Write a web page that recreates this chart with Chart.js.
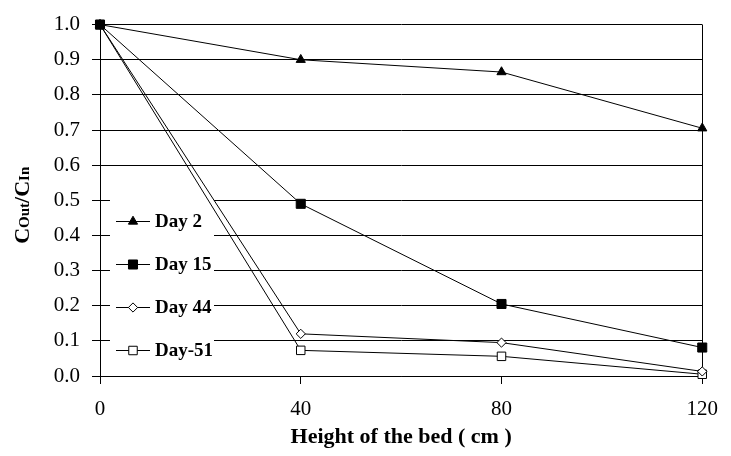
<!DOCTYPE html>
<html><head><meta charset="utf-8">
<script src="https://cdn.jsdelivr.net/npm/chart.js@4.4.0/dist/chart.umd.min.js"></script>
<style>html,body{margin:0;padding:0;background:#fff}#wrap{width:731px;height:456px}</style>
</head><body><div id="wrap"><canvas id="c" width="731" height="456"></canvas></div>
<script>
const heights = [0, 40, 80, 120];
const seriesNames = ['Day 2', 'Day 15', 'Day 44', 'Day-51'];
const day2 = [1.0, 0.90, 0.865, 0.705];
const day15 = [1.0, 0.49, 0.205, 0.081];
const day44 = [1.0, 0.12, 0.095, 0.013];
const day51 = [1.0, 0.073, 0.056, 0.005];
const xTitle = 'Height of the bed ( cm )';
const yTitleParts = [['C', false], ['Out', true], ['/', false], ['C', false], ['In', true]];

const FONT = 'Liberation Serif, Times New Roman, serif';
const markerStyles = [
  {pointStyle: 'triangle', radius: 5.3, bg: '#000'},
  {pointStyle: 'rect', radius: 6.4, bg: '#000'},
  {pointStyle: 'rectRot', radius: 4.6, bg: '#fff'},
  {pointStyle: 'rect', radius: 6.0, bg: '#fff'}
];
const allSeries = [day2, day15, day44, day51];

const datasets = allSeries.map((vals, i) => ({
  label: seriesNames[i],
  data: heights.map((h, j) => ({x: h, y: vals[j]})),
  borderColor: '#000',
  borderWidth: 1,
  backgroundColor: markerStyles[i].bg,
  pointStyle: markerStyles[i].pointStyle,
  pointRadius: markerStyles[i].radius,
  pointHoverRadius: markerStyles[i].radius,
  pointBackgroundColor: markerStyles[i].bg,
  pointBorderColor: '#000',
  pointBorderWidth: 1,
  tension: 0,
  fill: false,
  clip: false
}));

function drawMarker(ctx, style, x, y) {
  if (Chart.helpers && Chart.helpers.drawPoint) {
    ctx.save();
    ctx.fillStyle = style.bg; ctx.strokeStyle = '#000'; ctx.lineWidth = 1;
    Chart.helpers.drawPoint(ctx, {pointStyle: style.pointStyle, radius: style.radius, rotation: 0, borderWidth: 1}, x, y);
    ctx.restore();
  }
}

const insideLegend = {
  id: 'insideLegend',
  beforeDatasetsDraw(chart) {
    const {ctx, chartArea} = chart;
    const left = chartArea.left + 10;
    const top = chartArea.top + 174;
    ctx.save();
    ctx.fillStyle = '#fff';
    ctx.fillRect(left, top, 104, 170);
    const rowGap = 43;
    const firstRow = top + 22.5;
    ctx.font = 'bold 19px ' + FONT;
    ctx.textBaseline = 'middle';
    ctx.textAlign = 'left';
    seriesNames.forEach((name, i) => {
      const y = firstRow + i * rowGap;
      ctx.strokeStyle = '#000'; ctx.lineWidth = 1;
      ctx.beginPath(); ctx.moveTo(left + 6, Math.round(y) + 0.5); ctx.lineTo(left + 40, Math.round(y) + 0.5); ctx.stroke();
      drawMarker(ctx, markerStyles[i], left + 23, Math.round(y) + 0.5);
      ctx.fillStyle = '#000';
      ctx.fillText(name, left + 45, y + 1);
    });
    ctx.restore();
  },
  afterDraw(chart) {
    const {ctx, chartArea} = chart;
    ctx.save();
    const big = 'bold 22px ' + FONT, small = 'bold 15px ' + FONT;
    let total = 0;
    yTitleParts.forEach(([t, sub]) => { ctx.font = sub ? small : big; total += ctx.measureText(t).width; });
    ctx.translate(21, (chartArea.top + chartArea.bottom) / 2 + 5);
    ctx.rotate(-Math.PI / 2);
    ctx.fillStyle = '#000';
    ctx.textBaseline = 'alphabetic';
    ctx.textAlign = 'left';
    let x = -total / 2;
    yTitleParts.forEach(([t, sub]) => {
      ctx.font = sub ? small : big;
      ctx.fillText(t, x, 7.5);
      x += ctx.measureText(t).width;
    });
    ctx.restore();
  }
};

new Chart(document.getElementById('c'), {
  type: 'line',
  data: {datasets},
  plugins: [insideLegend],
  options: {
    responsive: false,
    animation: false,
    devicePixelRatio: 1,
    layout: {padding: {top: 21, right: 17, left: 0, bottom: 5}},
    plugins: {legend: {display: false}, tooltip: {enabled: false}},
    scales: {
      x: {
        type: 'linear', min: 0, max: 120,
        ticks: {stepSize: 40, color: '#000', font: {family: FONT, size: 21}, padding: 13, maxRotation: 0},
        grid: {
          color: (c) => (c.tick && c.tick.value === 120 ? '#000' : 'rgba(0,0,0,0)'),
          tickColor: '#000', tickLength: 8, lineWidth: 1
        },
        border: {color: '#000', width: 1},
        title: {display: true, text: xTitle, color: '#000', font: {family: FONT, size: 22, weight: 'bold'}, padding: {top: 0, bottom: 0}},
        afterFit: (s) => { s.height = 75; }
      },
      y: {
        min: 0, max: 1,
        ticks: {stepSize: 0.1, color: '#000', font: {family: FONT, size: 21}, padding: 12, callback: (v) => Number(v).toFixed(1)},
        grid: {color: '#000', tickColor: '#000', tickLength: 8, lineWidth: 1},
        border: {color: '#000', width: 1},
        title: {display: false, text: 'COut/CIn'},
        afterFit: (s) => { s.width = 100; }
      }
    }
  }
});
</script></body></html>
